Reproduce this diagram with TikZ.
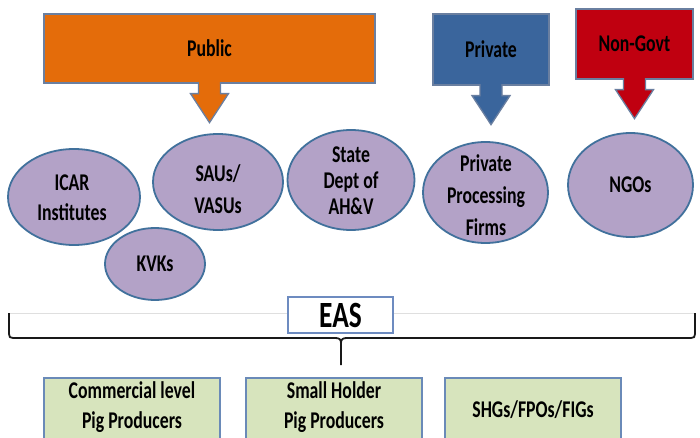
\documentclass[tikz,border=0pt]{standalone}
\usepackage{fontspec}
\setmainfont{Carlito}[FakeStretch=0.74]
\usetikzlibrary{calc,shapes.geometric}
\definecolor{pubor}{HTML}{E46C0A}
\definecolor{privbl}{HTML}{3A659C}
\definecolor{ngred}{HTML}{C00010}
\definecolor{lav}{HTML}{B3A2C7}
\definecolor{lavbd}{HTML}{41719C}
\definecolor{grn}{HTML}{D7E4BD}
\definecolor{grnbd}{HTML}{6A8AB8}
\definecolor{topbd}{HTML}{6A7FA0}
\definecolor{easbd}{HTML}{6D8BC0}
\tikzset{
  lbl/.style={font=\bfseries\fontsize{24}{30}\selectfont, text=black, align=center, inner sep=0pt},
  topbox/.style={lbl, draw=topbd, line width=1.3pt, rectangle},
  orgell/.style={lbl, ellipse, draw=lavbd, line width=1.8pt, fill=lav},
  grnbox/.style={lbl, draw=grnbd, line width=1.5pt, fill=grn, minimum width=176pt, minimum height=80pt},
  blockarr/.style={draw=topbd, line width=1.3pt, line join=miter},
}
\newcommand\downblock[2]{%
  \path[blockarr, fill=#2] ($(#1.south)+(-11,-1.5)$) -- ++(0,11.5) -- ++(-8,0)
    -- ++(19,29) -- ++(19,-29) -- ++(-8,0) -- ++(0,-11.5);
}
\begin{document}
\begin{tikzpicture}[x=1pt,y=-1pt]
\useasboundingbox[fill=white] (0,0) rectangle (700,438);
\begin{scope}
\clip (0,0) rectangle (700,438);
% top boxes
\node[topbox, fill=pubor, minimum width=331pt, minimum height=69pt] (pub) at (209.5,48.5) {Public};
\node[topbox, fill=privbl, minimum width=116pt, minimum height=71pt] (priv) at (491,49.5) {Private};
\node[topbox, fill=ngred, minimum width=117pt, minimum height=70pt] (ngo) at (634.5,44) {Non-Govt};
\downblock{pub}{pubor}
\downblock{priv}{privbl}
\downblock{ngo}{ngred}
% ellipses
\node[orgell, minimum width=132pt, minimum height=96pt] (icar) at (74,197) {};
\node[lbl] (icart) at (72,198) {ICAR\\Institutes};
\node[orgell, minimum width=130pt, minimum height=96pt] (sau) at (218,182) {};
\node[lbl, font=\bfseries\fontsize{24}{32}\selectfont] (saut) at (218,189) {SAUs/\\VASUs};
\node[orgell, minimum width=100pt, minimum height=72pt] (kvk) at (155,264) {KVKs};
\node[orgell, minimum width=127pt, minimum height=100pt] (state) at (351,180) {};
\node[lbl, font=\bfseries\fontsize{24}{26}\selectfont] (statet) at (351,181) {State\\Dept of\\AH\&V};
\node[orgell, minimum width=125pt, minimum height=101pt] (ppf) at (485.5,192.5) {};
\node[lbl, font=\bfseries\fontsize{24}{32}\selectfont] (ppft) at (486,195) {Private\\Processing\\Firms};
\node[orgell, minimum width=125pt, minimum height=104pt] (ngos) at (630.5,185) {NGOs};
% brace
\draw[gray!25, line width=0.5pt] (9,313) -- (695,313);
\draw[black!90, line width=1.8pt, line join=round]
  (9,313) -- (9,334) .. controls (9,337) and (10,338) .. (13,338) -- (335,338)
  .. controls (339,338) and (341,339) .. (341,343) -- (341,365);
\draw[black!90, line width=1.8pt, line join=round]
  (695,313) -- (695,334) .. controls (695,337) and (694,338) .. (691,338) -- (347,338)
  .. controls (343,338) and (341,339) .. (341,343);
\node[lbl, draw=easbd, line width=1.5pt, fill=white, minimum width=105pt, minimum height=36pt,
  font=\bfseries\fontsize{37}{38}\selectfont] (eas) at (340.5,315) {EAS};
% green boxes
\node[grnbox] (comm) at (132,418) {};
\node[lbl, font=\bfseries\fontsize{24}{30}\selectfont] (commt) at (132,407.5) {Commercial level\\Pig Producers};
\node[grnbox] (small) at (334,418) {};
\node[lbl, font=\bfseries\fontsize{24}{30}\selectfont] (smallt) at (334,407.5) {Small Holder\\Pig Producers};
\node[grnbox] (shg) at (533,418) {};
\node[lbl] (shgt) at (533,410) {SHGs/FPOs/FIGs};
\end{scope}
\end{tikzpicture}
\end{document}
